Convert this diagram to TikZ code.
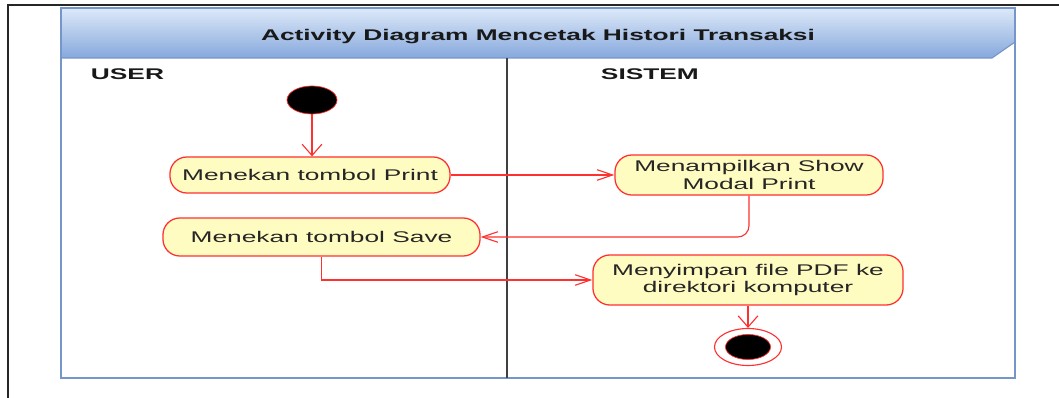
\documentclass[tikz,border=0pt]{standalone}
\usepackage{fontspec}
\setmainfont[FakeStretch=1.7]{Liberation Sans}
\usetikzlibrary{arrows.meta,shapes.geometric}

\definecolor{lanebd}{HTML}{7596C8}
\definecolor{headtop}{HTML}{DDE9F9}
\definecolor{headbot}{HTML}{86A8DC}
\definecolor{actfill}{HTML}{FFFCC2}
\definecolor{actline}{HTML}{FF3030}

\tikzset{
  action/.style={draw=actline, fill=actfill, line width=0.9pt, rounded corners=12pt,
    inner sep=0pt, text=black!85, align=center, font=\fontsize{11}{12.5}\selectfont},
  hflow/.style={draw=actline, line width=0.8pt, -{Straight Barb[length=11pt,width=7.5pt]}},
  vflow/.style={draw=actline, line width=0.8pt, -{Straight Barb[length=8pt,width=14pt]}},
  lanehead/.style={font=\fontsize{11}{13}\selectfont\bfseries, text=black!90},
}

\begin{document}
\begin{tikzpicture}[x=0.025cm, y=-0.025cm]
\useasboundingbox (0,0) rectangle (1059,398);

% page frame
\draw[line width=1.3pt, black!85] (8,398) -- (8,5) -- (1059,5);

% swimlane frame with title band
\shade[top color=headtop, bottom color=headbot]
  (61,8) -- (1015,8) -- (1015,42) -- (992,58) -- (61,58) -- cycle;
\draw[lanebd, line width=1pt] (61,8) rectangle (1015,378);
\draw[lanebd, line width=0.8pt] (61,58) -- (992,58) -- (1015,42);
\draw[black!75, line width=1.3pt] (507,58) -- (507,378);

\node[lanehead] (title) at (538,37) {Activity Diagram Mencetak Histori Transaksi};
\node[lanehead, anchor=west] (user) at (86,74) {USER};
\node[lanehead, anchor=west] (sistem) at (596,74) {SISTEM};

% activities
\node[ellipse, fill=black, draw=actline, line width=0.5pt, inner sep=0pt,
  minimum width=1.25cm, minimum height=0.7cm] (start) at (312,100) {};
\node[action, minimum width=7cm, minimum height=0.9cm] (print) at (310,175) {Menekan tombol Print};
\node[action, minimum width=6.7cm, minimum height=1cm] (show) at (749,175) {Menampilkan Show\\Modal Print};
\node[action, minimum width=7.925cm, minimum height=0.95cm] (save) at (321.5,237) {Menekan tombol Save};
\node[action, minimum width=7.75cm, minimum height=1.25cm] (pdf) at (748,280) {Menyimpan file PDF ke\\direktori komputer};
\node[ellipse, fill=white, draw=actline, line width=0.8pt, inner sep=0pt,
  minimum width=1.675cm, minimum height=0.925cm] (end) at (748,347) {};
\node[ellipse, fill=black, draw=actline, line width=0.5pt, inner sep=0pt,
  minimum width=1.125cm, minimum height=0.625cm] (endin) at (end) {};

% flows
\draw[vflow] (start) -- (start |- print.north);
\draw[hflow] (print) -- (show);
\draw[hflow, rounded corners=8pt] (show.south) |- (save.east);
\draw[hflow] (save.south) |- (pdf.west);
\draw[vflow] (pdf) -- (end);
\end{tikzpicture}
\end{document}
